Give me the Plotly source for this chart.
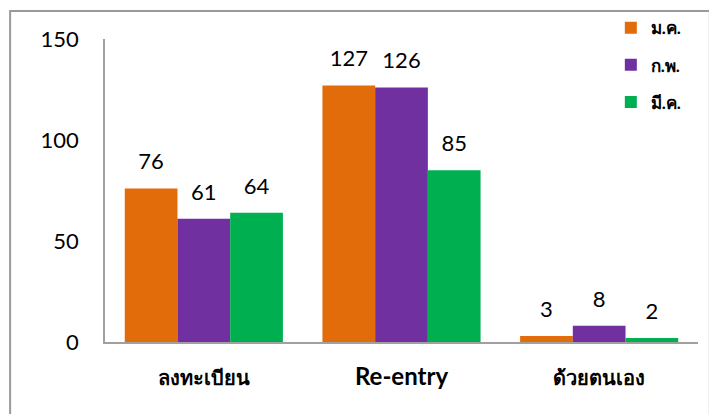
import plotly.graph_objects as go

categories = ["ลงทะเบียน", "Re-entry", "ด้วยตนเอง"]
tick_labels = ["<b>ลงทะเบียน</b>", "<b><span style='font-size:24px'>Re-entry</span></b>", "<b>ด้วยตนเอง</b>"]
series_names = ["ม.ค.", "ก.พ.", "มี.ค."]
jan = [76, 127, 3]
feb = [61, 126, 8]
mar = [64, 85, 2]
colors = ["#E36C0A", "#7030A0", "#00B050"]

fig = go.Figure()
for i, (name, vals) in enumerate(zip(series_names, [jan, feb, mar])):
    fig.add_trace(go.Bar(
        x=categories, y=vals, name=f"<b>{name}</b>", marker_color=colors[i],
        marker_line_width=0, offsetgroup=str(i), legendgroup=name,
    ))
    fig.add_trace(go.Scatter(
        x=categories, y=vals, mode="markers+text", text=[str(v) for v in vals],
        textposition="top center", offsetgroup=str(i), showlegend=False,
        marker=dict(size=20, opacity=0), cliponaxis=False, hoverinfo="skip",
        textfont=dict(size=22, color="black", family="Lato, 'Noto Sans', sans-serif"),
    ))

fig.update_layout(
    width=717, height=414,
    margin=dict(l=97, r=27, t=31, b=80, autoexpand=False),
    barmode="group", bargap=0.2, bargroupgap=0,
    scattermode="group", scattergap=0.2,
    plot_bgcolor="white", paper_bgcolor="white",
    font=dict(family="Lato, 'Noto Sans', sans-serif", color="black"),
    showlegend=True,
    legend=dict(x=0.853, y=1.095, xanchor="left", yanchor="top",
                font=dict(size=17, color="black"), tracegroupgap=12,
                bgcolor="rgba(0,0,0,0)", itemwidth=30),
    xaxis=dict(type="category", tickmode="array", tickvals=categories, ticktext=tick_labels,
               showline=True, linecolor="#A0A0A0", linewidth=2, ticks="",
               tickfont=dict(size=20, color="black"), showgrid=False,
               ticklabelstandoff=17),
    yaxis=dict(range=[0, 150], tickvals=[0, 50, 100, 150], showline=True,
               linecolor="#A0A0A0", linewidth=1.5, showgrid=False, zeroline=False,
               ticks="", tickfont=dict(size=22, color="black"), ticklabelstandoff=20),
)
fig.add_shape(type="rect", xref="paper", yref="paper",
              x0=-0.160, x1=1.020, y0=-0.35, y1=1.092,
              line=dict(color="#9A9A9A", width=2), fillcolor="rgba(0,0,0,0)", layer="above")

fig.write_html("out.html")
